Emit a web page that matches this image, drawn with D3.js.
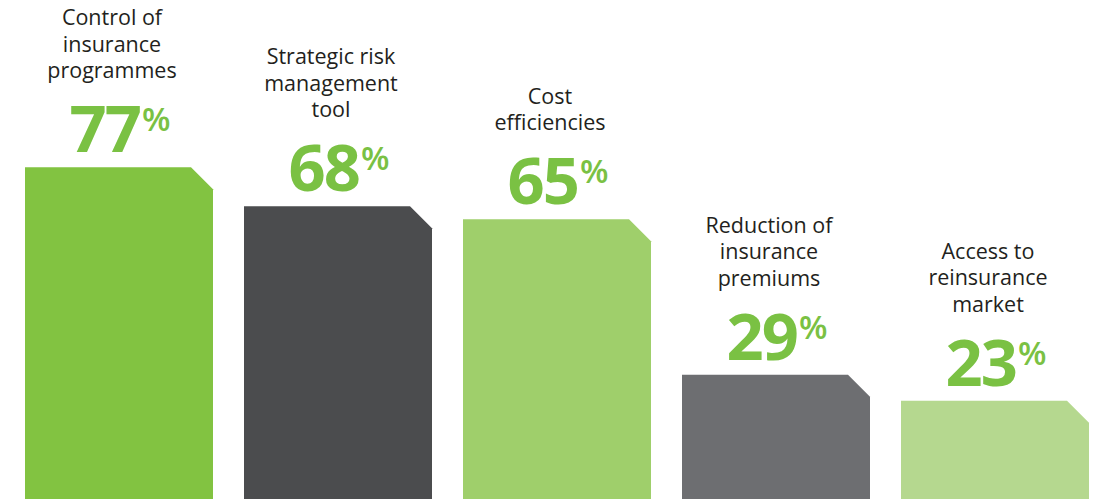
<html>
<head>
<script src="https://d3js.org/d3.v7.min.js"></script>
<style>
  body { margin: 0; background: #ffffff; overflow: hidden; }
</style>
</head>
<body>
<div id="chart"></div>
<script>
// data
var categories = ["Control of insurance programmes", "Strategic risk management tool", "Cost efficiencies", "Reduction of insurance premiums", "Access to reinsurance market"];
var labelLines = [["Control of", "insurance", "programmes"], ["Strategic risk", "management", "tool"], ["Cost", "efficiencies"], ["Reduction of", "insurance", "premiums"], ["Access to", "reinsurance", "market"]];
var values = [77, 68, 65, 29, 23];
var colors = ["#82c341", "#4b4c4e", "#9fcf6b", "#6d6e71", "#b5d88f"];

var width = 1094, height = 499;

var svg = d3.select("#chart").append("svg")
    .attr("width", width)
    .attr("height", height);

var x = d3.scaleBand()
    .domain(categories)
    .range([25, 1089])
    .paddingInner(31 / 219)
    .paddingOuter(0);

var y = d3.scaleLinear()
    .domain([0, 100])
    .range([500, 68]);

var cut = 22;

function barPath(d, i) {
  var x0 = x(d), x1 = x0 + x.bandwidth(), top = y(values[i]), bottom = y(0);
  var p = d3.path();
  p.moveTo(x0, bottom);
  p.lineTo(x0, top);
  p.lineTo(x1 - cut, top);
  p.lineTo(x1, top + cut);
  p.lineTo(x1, bottom);
  p.closePath();
  return p.toString();
}

svg.selectAll(".bar")
  .data(categories)
  .enter().append("path")
    .attr("class", "bar")
    .attr("d", barPath)
    .style("fill", function(d, i) { return colors[i]; });

// label lines + big percentage, one text block per bar
svg.selectAll(".lab")
  .data(categories)
  .enter().append("text")
    .attr("class", "lab")
    .attr("text-anchor", "middle")
    .style("font-family", "'Open Sans', sans-serif")
    .each(function(d, i) {
      var t = d3.select(this);
      var numBase = y(values[i]) - 15;
      var lines = labelLines[i];
      lines.forEach(function(l, k) {
        t.append("tspan")
          .attr("x", x(d) + x.bandwidth() / 2 - 7)
          .attr("y", numBase - 74 - (lines.length - 1 - k) * 26.5)
          .style("font-size", "21.5px")
          .style("fill", "#231f20")
          .text(l);
      });
      t.append("tspan")
        .attr("x", x(d) + x.bandwidth() / 2 + 1)
        .attr("y", numBase)
        .style("font-size", "65px")
        .style("font-weight", 700)
        .style("letter-spacing", "-2px")
        .style("fill", "#7ac143")
        .text(values[i]);
      t.append("tspan")
        .attr("dx", 2)
        .attr("dy", -21)
        .style("font-size", "33px")
        .style("font-weight", 600)
        .style("fill", "#7ac143")
        .text("%");
    });
</script>
</body>
</html>
